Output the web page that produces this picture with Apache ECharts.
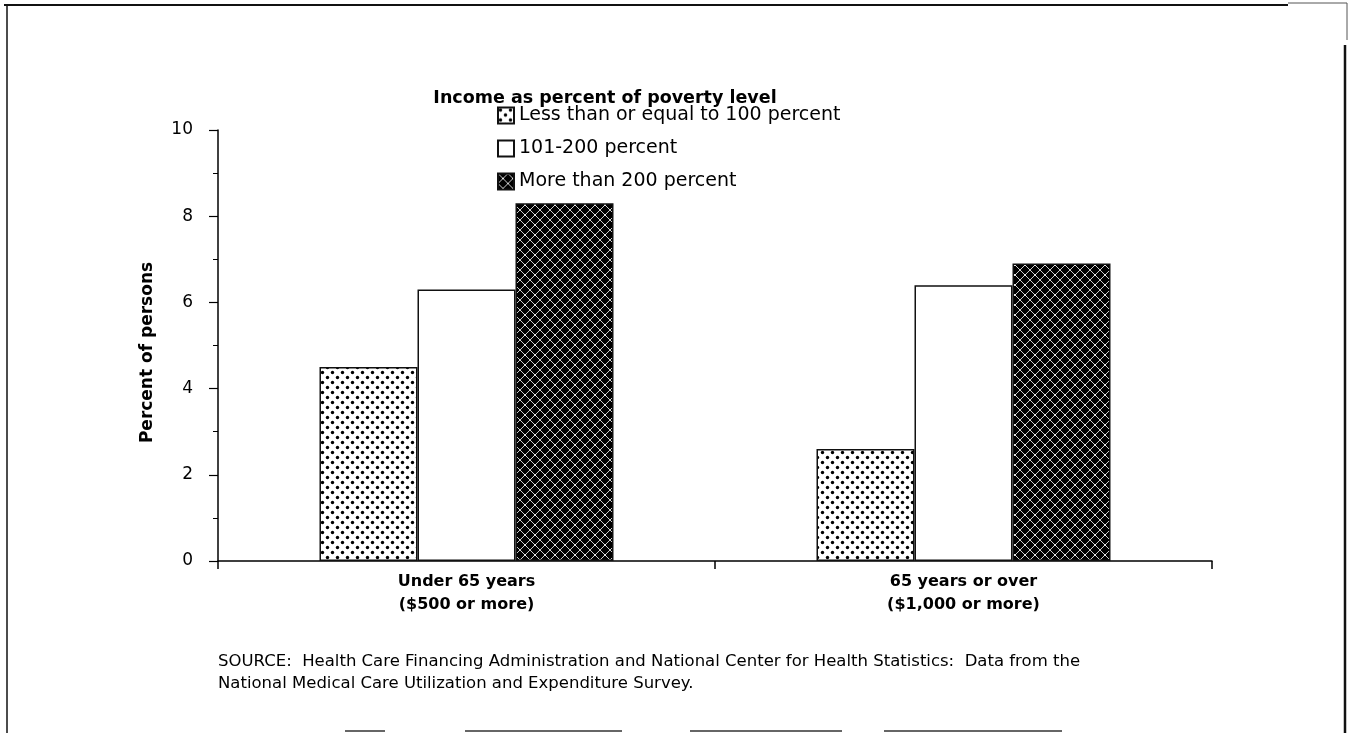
<!DOCTYPE html>
<html>
<head>
<meta charset="utf-8">
<script src="https://cdn.jsdelivr.net/npm/echarts@6/dist/echarts.min.js"></script>
<style>
html,body{margin:0;padding:0;background:#fff;}
#chart{width:1351px;height:733px;}
</style>
</head>
<body>
<div id="chart"></div>
<script>
// ---- data ----
const categories = ['Under 65 years\n($500 or more)', '65 years or over\n($1,000 or more)'];
const seriesNames = ['Less than or equal to 100 percent', '101-200 percent', 'More than 200 percent'];
const lowIncome = [4.5, 2.6];
const midIncome = [6.3, 6.4];
const highIncome = [8.3, 6.9];
const yTicks = [0, 2, 4, 6, 8, 10];
const titleText = 'Income as percent of poverty level';
const yAxisTitle = 'Percent of persons';
const sourceLines = [
  'SOURCE:  Health Care Financing Administration and National Center for Health Statistics:  Data from the',
  'National Medical Care Utilization and Expenditure Survey.'
];

// ---- patterns ----
function dotPattern() {
  const c = document.createElement('canvas');
  c.width = 10; c.height = 10;
  const g = c.getContext('2d');
  g.fillStyle = '#fff'; g.fillRect(0, 0, 10, 10);
  g.fillStyle = '#000';
  [[2.5, 2.5], [7.5, 7.5]].forEach(p => { g.beginPath(); g.arc(p[0], p[1], 1.7, 0, Math.PI * 2); g.fill(); });
  return c;
}
function crossPattern() {
  const c = document.createElement('canvas');
  c.width = 10; c.height = 10;
  const g = c.getContext('2d');
  g.fillStyle = '#000'; g.fillRect(0, 0, 10, 10);
  g.strokeStyle = '#fff'; g.lineWidth = 0.8;
  g.beginPath();
  g.moveTo(0, 0); g.lineTo(10, 10);
  g.moveTo(10, 0); g.lineTo(0, 10);
  g.stroke();
  g.fillStyle = '#fff';
  g.fillRect(4.3, 4.3, 1.4, 1.4);
  return c;
}
const fills = [
  { image: dotPattern(), repeat: 'repeat' },
  '#ffffff',
  { image: crossPattern(), repeat: 'repeat' }
];
const seriesData = [lowIncome, midIncome, highIncome];

const FONT = '"DejaVu Sans", "Liberation Sans", Arial, sans-serif';
const chart = echarts.init(document.getElementById('chart'), null, { renderer: 'canvas' });

const borderColor = '#111';
const frame = [
  { x1: 4, y1: 5, x2: 1288, y2: 5, w: 2.2, c: '#111' },
  { x1: 1288, y1: 3, x2: 1347, y2: 3, w: 1, c: '#555' },
  { x1: 1347, y1: 3, x2: 1347, y2: 40, w: 1, c: '#555' },
  { x1: 1345, y1: 45, x2: 1345, y2: 733, w: 2.5, c: '#111' },
  { x1: 7, y1: 5, x2: 7, y2: 733, w: 1.5, c: '#111' },
  { x1: 345, y1: 731, x2: 385, y2: 731, w: 1.5, c: '#333' },
  { x1: 465, y1: 731, x2: 622, y2: 731, w: 1.5, c: '#333' },
  { x1: 690, y1: 731, x2: 842, y2: 731, w: 1.5, c: '#333' },
  { x1: 884, y1: 731, x2: 1062, y2: 731, w: 1.5, c: '#333' }
];

chart.setOption({
  animation: false,
  backgroundColor: '#fff',
  title: {
    text: titleText,
    left: 605, top: 89, textAlign: 'center', padding: 0,
    textStyle: { fontFamily: FONT, fontSize: 17.5, fontWeight: 'bold', color: '#000' }
  },
  legend: {
    orient: 'vertical',
    left: 497, top: 106, padding: 0,
    itemWidth: 16, itemHeight: 16, itemGap: 14,
    icon: 'rect',
    textStyle: { fontFamily: FONT, fontSize: 19, lineHeight: 18, color: '#000' },
    data: seriesNames
  },
  grid: { left: 218, right: 139, top: 130, bottom: 172, containLabel: false },
  xAxis: {
    type: 'category',
    data: categories,
    axisLine: { lineStyle: { color: '#000', width: 1.5 } },
    axisTick: { show: true, length: 8, lineStyle: { color: '#000', width: 1.5 } },
    axisLabel: { fontFamily: FONT, fontSize: 16, fontWeight: 'bold', color: '#000', margin: 9, lineHeight: 23 }
  },
  yAxis: {
    type: 'value',
    min: 0, max: 10, interval: 2,
    name: yAxisTitle,
    nameLocation: 'middle',
    nameGap: 62,
    nameTextStyle: { fontFamily: FONT, fontSize: 17, fontWeight: 'bold', color: '#000', padding: [0, 14, 0, 0] },
    axisLine: { show: true, lineStyle: { color: '#000', width: 1.5 } },
    axisTick: { show: true, length: 9, lineStyle: { color: '#000', width: 1.2 } },
    minorTick: { show: true, splitNumber: 2, length: 5, lineStyle: { color: '#000', width: 1 } },
    splitLine: { show: false },
    axisLabel: {
      fontFamily: FONT, fontSize: 17, color: '#000', margin: 25,
      formatter: v => (yTicks.indexOf(v) >= 0 ? String(v) : '')
    }
  },
  graphic: [
    {
      type: 'text', left: 218, top: 651,
      style: { text: sourceLines.join('\n'), font: '16.5px ' + FONT, fill: '#000', lineHeight: 22 }
    }
  ].concat(frame.map(f => ({
    type: 'line', silent: true,
    shape: { x1: f.x1, y1: f.y1, x2: f.x2, y2: f.y2 },
    style: { stroke: f.c, lineWidth: f.w }
  }))),
  series: seriesNames.map((n, i) => ({
    name: n,
    type: 'bar',
    data: seriesData[i],
    barWidth: 98,
    barGap: '0%',
    itemStyle: { color: fills[i], borderColor: borderColor, borderWidth: 1.5 }
  }))
});
</script>
</body>
</html>
